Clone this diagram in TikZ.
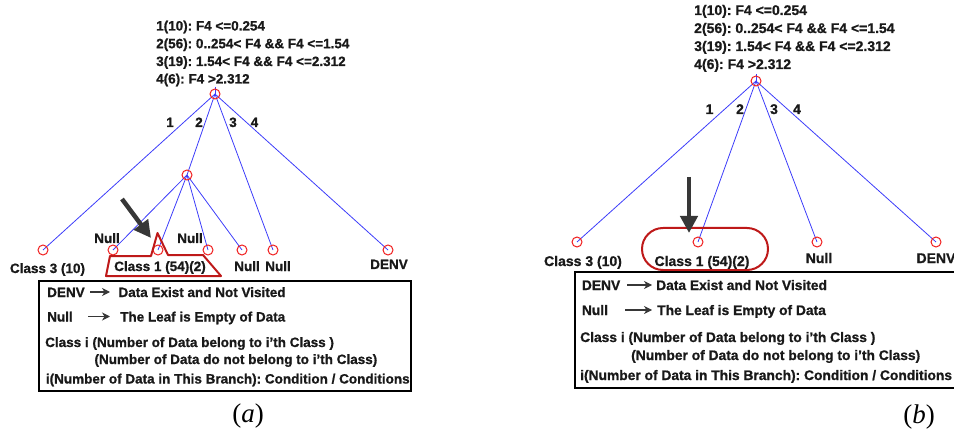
\documentclass[tikz,border=0pt]{standalone}
\usepackage{fontspec}
\setmainfont{Liberation Sans}[BoldFeatures={FakeBold=0.9}]
\newfontfamily\capfont{Liberation Serif}
\usetikzlibrary{arrows.meta,backgrounds}
\definecolor{edgeblue}{RGB}{60,60,250}
\definecolor{leafred}{RGB}{240,30,30}
\definecolor{markred}{RGB}{190,25,25}
\definecolor{hintgray}{RGB}{55,55,55}
\definecolor{inkgray}{RGB}{25,25,25}
\frenchspacing

\begin{document}
\begin{tikzpicture}[x=1pt,y=-1pt,
  every node/.style={font=\fontsize{13.5}{16}\selectfont\bfseries, text=inkgray, inner sep=0pt},
  vtx/.style={circle, draw=leafred, line width=1pt, minimum size=10pt},
  branch/.style={draw=edgeblue, line width=0.8pt},
  lt/.style={anchor=base west},
  ct/.style={anchor=base},
  hint/.style={draw=hintgray, line width=4.5pt, -{Triangle[length=17pt,width=17pt]}},
  legarrow/.style={draw=hintgray, line width=1.1pt, -{Stealth[length=8pt,width=8pt,inset=2.5pt]}},
  legbox/.style={draw=black, line width=2.2pt},
  hilite/.style={draw=markred, line width=2pt, line join=round},
  figcap/.style={font=\capfont\fontsize{27}{30}\selectfont, text=black}]

\useasboundingbox (0,0) rectangle (954,433);

% ---------------- (a) ----------------
\node[lt] (aC1) at (156,30.5) {1(10): F4 <=0.254};
\node[lt] (aC2) at (156,48.2) {2(56): 0..254< F4 \&\& F4 <=1.54};
\node[lt] (aC3) at (156,66)   {3(19): 1.54< F4 \&\& F4 <=2.312};
\node[lt] (aC4) at (156,83.5) {4(6): F4 >2.312};

\node[vtx] (aR)  at (215,94)  {};
\node[vtx] (aM)  at (187,175) {};
\node[vtx] (aL1) at (43,250)  {};
\node[vtx] (aL2) at (113,250) {};
\node[vtx] (aL3) at (158,250) {};
\node[vtx] (aL4) at (208,250) {};
\node[vtx] (aL5) at (242,250) {};
\node[vtx] (aL6) at (273,250) {};
\node[vtx] (aL7) at (388,250) {};
\coordinate (aTop) at (215,87);

\begin{scope}[on background layer]
  \draw[branch] (aTop) -- (aR.center);
  \draw[branch] (aR.center) -- (aL1.center);
  \draw[branch] (aR.center) -- (aM.center);
  \draw[branch] (aR.center) -- (aL6.center);
  \draw[branch] (aR.center) -- (aL7.center);
  \draw[branch] (aM.center) -- (aL2.center);
  \draw[branch] (aM.center) -- (aL3.center);
  \draw[branch] (aM.center) -- (aL4.center);
  \draw[branch] (aM.center) -- (aL5.center);
\end{scope}

\node[ct] (aB1) at (170,127) {1};
\node[ct] (aB2) at (199,127) {2};
\node[ct] (aB3) at (233,127) {3};
\node[ct] (aB4) at (254.5,127) {4};

\node[ct] (aT1) at (47.5,273) {Class 3 (10)};
\node[ct] (aT2) at (107,243)  {Null};
\node[ct] (aT3) at (160,271)  {Class 1 (54)(2)};
\node[ct] (aT4) at (190,243)  {Null};
\node[ct] (aT5) at (247,271)  {Null};
\node[ct] (aT6) at (278,271)  {Null};
\node[ct] (aT7) at (389,269)  {DENV};

% highlight around the Class 1 leaf
\draw[hilite] (106,276) -- (110,256) -- (151,256) -- (157.5,233) -- (168,255)
  -- (203,255) -- (221,276) -- cycle;
\coordinate (aHintS) at (122,199);
\coordinate (aHintE) at (151,238);
\draw[hint] (aHintS) -- (aHintE);

% legend
\draw[legbox] (39,281) rectangle (411,391);
\node[lt] (aK1) at (47,297) {DENV};
\node[lt] (aV1) at (118.3,297) {Data Exist and Not Visited};
\node[lt] (aK2) at (47,321.5) {Null};
\node[lt] (aV2) at (120,321.5) {The Leaf is Empty of Data};
\node[lt] (aK3) at (45,347) {Class i (Number of Data belong to i'th Class )};
\node[lt] (aK4) at (94.3,364) {(Number of Data do not belong to i'th Class)};
\node[lt] (aK5) at (45.7,383.5) {i(Number of Data in This Branch): Condition / Conditions};
\coordinate (aA1s) at (90,292);   \coordinate (aA1e) at (110,292);
\coordinate (aA2s) at (88,316.5); \coordinate (aA2e) at (110,316.5);
\draw[legarrow] (aA1s) -- (aA1e);
\draw[legarrow] (aA2s) -- (aA2e);

\node[figcap, anchor=base] (capA) at (248,422) {(\textit{a})};

% ---------------- (b) ----------------
\begin{scope}[every node/.append style={font=\fontsize{14}{16}\selectfont\bfseries}]
\node[lt] (bC1) at (694,15) {1(10): F4 <=0.254};
\node[lt] (bC2) at (694,33) {2(56): 0..254< F4 \&\& F4 <=1.54};
\node[lt] (bC3) at (694,51) {3(19): 1.54< F4 \&\& F4 <=2.312};
\node[lt] (bC4) at (694,69) {4(6): F4 >2.312};

\node[vtx] (bR)  at (756,81)  {};
\node[vtx] (bL1) at (577,242) {};
\node[vtx] (bL2) at (698,242) {};
\node[vtx] (bL3) at (817,242) {};
\node[vtx] (bL4) at (936,242) {};
\coordinate (bTop) at (756,74);

\begin{scope}[on background layer]
  \draw[branch] (bTop) -- (bR.center);
  \draw[branch] (bR.center) -- (bL1.center);
  \draw[branch] (bR.center) -- (bL2.center);
  \draw[branch] (bR.center) -- (bL3.center);
  \draw[branch] (bR.center) -- (bL4.center);
\end{scope}

\node[ct] (bB1) at (709.5,114) {1};
\node[ct] (bB2) at (740,114) {2};
\node[ct] (bB3) at (774,114) {3};
\node[ct] (bB4) at (797,114) {4};

\node[ct] (bT1) at (583,266) {Class 3 (10)};
\node[ct] (bT2) at (702,266) {Class 1 (54)(2)};
\node[ct] (bT3) at (819,263) {Null};
\node[ct] (bT4) at (936,263) {DENV};

% highlight around the Class 1 leaf
\draw[hilite, rounded corners=21pt] (642,228) rectangle (768,270);
\coordinate (bHintS) at (689,177);
\coordinate (bHintE) at (689,233);
\draw[hint] (bHintS) -- (bHintE);
\end{scope}

% legend (runs past the right edge)
\begin{scope}[every node/.append style={font=\fontsize{13.8}{16}\selectfont\bfseries}]
\draw[legbox] (575,272) rectangle (962,388);
\node[lt] (bK1) at (581.7,290) {DENV};
\node[lt] (bV1) at (656,290) {Data Exist and Not Visited};
\node[lt] (bK2) at (581.7,315) {Null};
\node[lt] (bV2) at (657,315) {The Leaf is Empty of Data};
\node[lt] (bK3) at (580,342) {Class i (Number of Data belong to i'th Class )};
\node[lt] (bK4) at (631,360) {(Number of Data do not belong to i'th Class)};
\node[lt] (bK5) at (580,380) {i(Number of Data in This Branch): Condition / Conditions};
\coordinate (bA1s) at (627,285); \coordinate (bA1e) at (652,285);
\coordinate (bA2s) at (625,310); \coordinate (bA2e) at (652,310);
\draw[legarrow] (bA1s) -- (bA1e);
\draw[legarrow] (bA2s) -- (bA2e);
\end{scope}

\node[figcap, anchor=base] (capB) at (919,423) {(\textit{b})};
\end{tikzpicture}
\end{document}
